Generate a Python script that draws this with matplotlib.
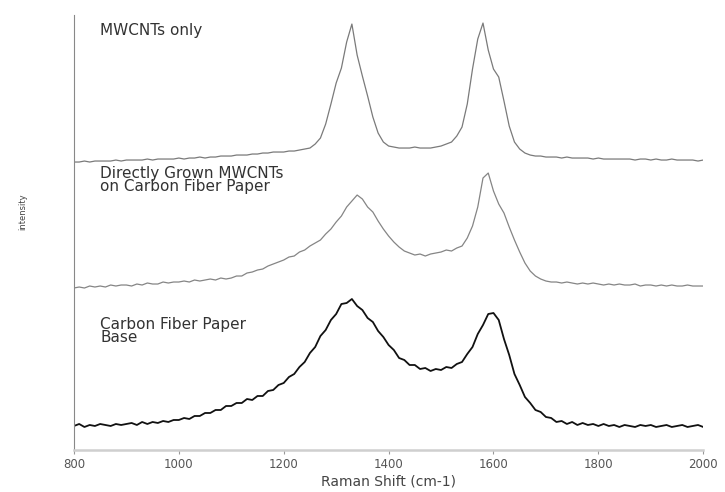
import numpy as np
import matplotlib
matplotlib.use("Agg")
import matplotlib.pyplot as plt

# Raman shift grid (cm-1), one reading every 10 cm-1
shift = np.arange(800, 2001, 10)

# intensity, relative to its own baseline
mwcnt_only = [
    0, 0, 1, 0, 1, 1, 1, 1, 2, 1,
    2, 2, 2, 2, 3, 2, 3, 3, 3, 3,
    4, 3, 4, 4, 5, 4, 5, 5, 6, 6,
    6, 7, 7, 7, 8, 8, 9, 9, 10, 10,
    10, 11, 11, 12, 13, 14, 18, 24, 38, 58,
    79, 94, 120, 138, 107, 86, 66, 45, 29, 20,
    16, 15, 14, 14, 14, 15, 14, 14, 14, 15,
    16, 18, 20, 26, 35, 58, 93, 123, 139, 112,
    93, 85, 61, 36, 20, 13, 9, 7, 6, 6,
    5, 5, 5, 4, 5, 4, 4, 4, 4, 3,
    4, 3, 3, 3, 3, 3, 3, 2, 3, 3,
    2, 3, 2, 2, 3, 2, 2, 2, 2, 1,
    2,
]
grown_on_paper = [
    0, 1, 0, 2, 1, 2, 1, 3, 2, 3,
    3, 2, 4, 3, 5, 4, 4, 6, 5, 6,
    6, 7, 6, 8, 7, 8, 9, 8, 10, 9,
    10, 12, 12, 15, 16, 18, 19, 22, 24, 26,
    28, 31, 32, 36, 38, 42, 45, 48, 54, 59,
    66, 72, 81, 87, 93, 89, 81, 76, 67, 59,
    52, 46, 41, 37, 35, 33, 34, 32, 34, 35,
    36, 38, 37, 40, 42, 50, 62, 81, 110, 115,
    97, 84, 75, 61, 48, 36, 25, 17, 12, 9,
    7, 6, 6, 5, 6, 5, 4, 5, 4, 5,
    4, 3, 4, 3, 4, 3, 3, 4, 2, 3,
    3, 2, 3, 2, 3, 2, 2, 3, 2, 2,
    2,
]
paper_base = [
    0, 2, -1, 1, 0, 2, 1, 0, 2, 1,
    2, 3, 1, 4, 2, 4, 3, 5, 4, 6,
    6, 8, 7, 10, 10, 13, 13, 16, 16, 20,
    20, 23, 23, 27, 26, 30, 30, 35, 36, 41,
    43, 49, 52, 59, 64, 73, 79, 90, 96, 106,
    112, 122, 123, 127, 120, 116, 108, 104, 95, 89,
    81, 76, 68, 66, 61, 61, 57, 58, 55, 57,
    56, 59, 58, 62, 64, 72, 79, 92, 101, 112,
    113, 106, 87, 71, 52, 41, 29, 23, 16, 14,
    9, 8, 4, 5, 2, 4, 1, 3, 1, 2,
    0, 2, 0, 1, -1, 1, 0, -1, 1, 0,
    1, -1, 0, 1, -1, 0, 1, -1, 0, 1,
    -1,
]

labels = ["MWCNTs only",
          "Directly Grown MWCNTs\non Carbon Fiber Paper",
          "Carbon Fiber Paper\nBase"]
xticks = [800, 1000, 1200, 1400, 1600, 1800, 2000]

# stacking offsets and label anchors
offsets = [288, 162, 24]
label_y = [420, 270, 119]
colors = ["#7a7a7a", "#858585", "#111111"]
widths = [0.9, 0.9, 1.3]

fig = plt.figure(figsize=(7.25, 4.92), dpi=100)
ax = fig.add_axes([0.102, 0.0854, 0.868, 0.884])

series = [mwcnt_only, grown_on_paper, paper_base]
for vals, off, c, lw in zip(series, offsets, colors, widths):
    ax.plot(shift, np.array(vals) + off, color=c, lw=lw)

for txt, ly in zip(labels, label_y):
    ax.text(850, ly, txt, fontsize=11, color="#333333", ha="left",
            va="center", linespacing=0.9)

ax.set_xlim(800, 2000)
ax.set_ylim(0, 435)
ax.set_xticks(xticks)
ax.set_yticks([])

for s in ["top", "right"]:
    ax.spines[s].set_visible(False)
ax.spines["left"].set_color("#888888")
ax.spines["left"].set_linewidth(0.8)
ax.spines["bottom"].set_color("#cfcfcf")
ax.spines["bottom"].set_linewidth(1.8)

ax.tick_params(axis="x", length=3, width=0.8, color="#999999",
               labelsize=8.5, labelcolor="#555555", pad=3)

ax.set_xlabel("Raman Shift (cm-1)", fontsize=10, color="#444444", labelpad=2)
ax.set_ylabel("intensity", fontsize=6, color="#444444")
ax.yaxis.set_label_coords(-0.075, 0.547)

fig.savefig("out.png", dpi=100)
